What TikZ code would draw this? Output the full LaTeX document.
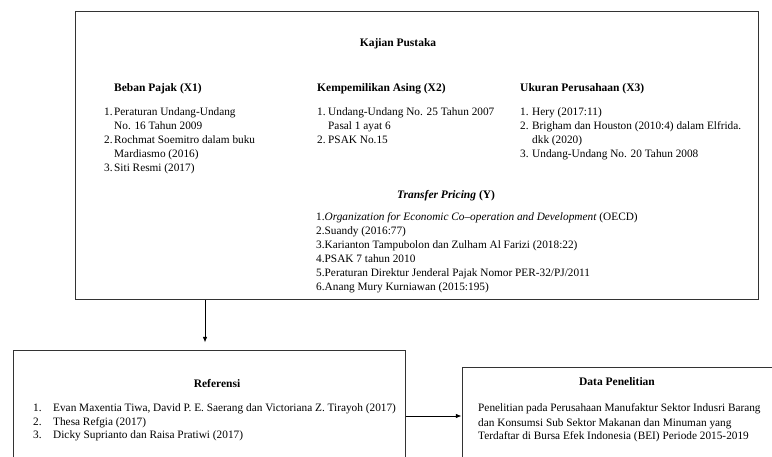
\documentclass[tikz,border=0pt]{standalone}
\usepackage{fontspec}
\setmainfont{Liberation Serif}
\usetikzlibrary{arrows.meta,positioning}
\tikzset{%
  >={Latex[width=1.6mm,length=2mm]},
  % Specifications for style of nodes:
        frame/.style = {rectangle, draw=black!80, line width=1pt, inner sep=0pt},
      heading/.style = {font=\fontsize{11.5}{14}\selectfont\bfseries, inner sep=0pt},
     listtext/.style = {anchor=base west, inner sep=0pt},
}

\begin{document}
\begin{tikzpicture}[x=1pt, y=-1pt, font=\fontsize{11.3}{14}\selectfont]
    \useasboundingbox (0,0) rectangle (772,457);
    \clip (0,0) rectangle (772,457);

    % Kajian Pustaka
    \node (kajian) [frame, minimum width=683pt, minimum height=288pt] at (416.5,156) {};
    \node (kajiantitle) [heading, anchor=base] at (398,47) {Kajian Pustaka};

    \node (x1) [heading, anchor=base west] at (114,92) {Beban Pajak (X1)};
    \node (x1list) [listtext] at (104,116) {\begin{tabular}[t]{@{}p{10pt}@{}l@{}}
        1. & Peraturan Undang-Undang\\
           & No. 16 Tahun 2009\\
        2. & Rochmat Soemitro dalam buku\\
           & Mardiasmo (2016)\\
        3. & Siti Resmi (2017)
      \end{tabular}};

    \node (x2) [heading, anchor=base west] at (317,92) {Kempemilikan Asing (X2)};
    \node (x2list) [listtext] at (317,116) {\begin{tabular}[t]{@{}p{11pt}@{}l@{}}
        1. & Undang-Undang No. 25 Tahun 2007\\
           & Pasal 1 ayat 6\\
        2. & PSAK No.15
      \end{tabular}};

    \node (x3) [heading, anchor=base west] at (520,92) {Ukuran Perusahaan (X3)};
    \node (x3list) [listtext] at (520,116) {\begin{tabular}[t]{@{}p{12pt}@{}l@{}}
        1. & Hery (2017:11)\\
        2. & Brigham dan Houston (2010:4) dalam Elfrida.\\
           & dkk (2020)\\
        3. & Undang-Undang No. 20 Tahun 2008
      \end{tabular}};

    \node (y) [heading, anchor=base] at (446,199) {\textit{Transfer Pricing} (Y)};
    \node (ylist) [listtext] at (316,221) {\begin{tabular}[t]{@{}p{8.5pt}@{}l@{}}
        1. & \textit{Organization for Economic Co--operation and Development} (OECD)\\
        2. & Suandy (2016:77)\\
        3. & Karianton Tampubolon dan Zulham Al Farizi (2018:22)\\
        4. & PSAK 7 tahun 2010\\
        5. & Peraturan Direktur Jenderal Pajak Nomor PER-32/PJ/2011\\
        6. & Anang Mury Kurniawan (2015:195)
      \end{tabular}};

    % Referensi
    \node (ref) [frame, minimum width=392pt, minimum height=130pt] at (209,416) {};
    \node (reftitle) [heading, anchor=base] at (217,388) {Referensi};
    \node (reflist) [listtext] at (33,411) {\begin{tabular}[t]{@{}p{20pt}@{}l@{}}
        1. & Evan Maxentia Tiwa, David P. E. Saerang dan Victoriana Z. Tirayoh (2017)\\
        2. & Thesa Refgia (2017)\\
        3. & Dicky Suprianto dan Raisa Pratiwi (2017)
      \end{tabular}};

    % Data Penelitian
    \node (data) [frame, minimum width=330pt, minimum height=112pt] at (627,424) {};
    \node (datatitle) [heading, anchor=base] at (617,386) {Data Penelitian};
    \node (datatext) [listtext] at (478,412) {\begin{tabular}[t]{@{}l@{}}
        Penelitian pada Perusahaan Manufaktur Sektor Indusri Barang\\
        dan Konsumsi Sub Sektor Makanan dan Minuman yang\\
        Terdaftar di Bursa Efek Indonesia (BEI) Periode 2015-2019
      \end{tabular}};

    \draw [->, line width=0.8pt] ([xshift=-4pt]kajian.south -| ref.north) -- ([xshift=-4pt,yshift=8pt]ref.north);
    \draw [->, line width=0.8pt] (ref.east) -- (ref.east -| data.west);
\end{tikzpicture}
\end{document}
